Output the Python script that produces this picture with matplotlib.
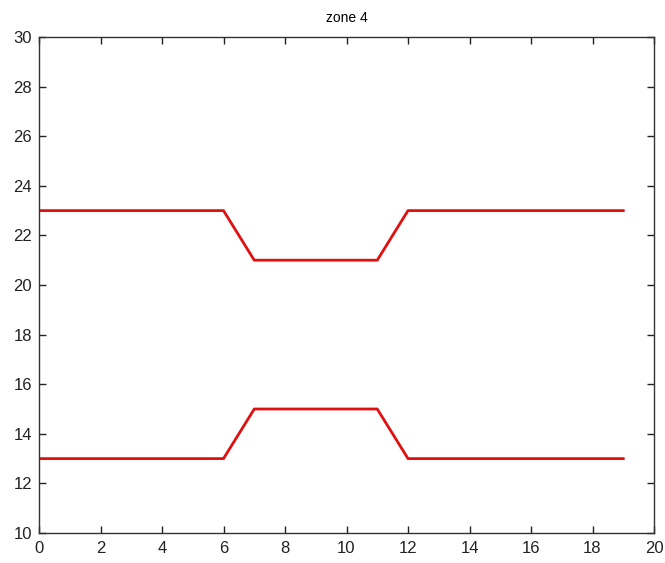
import matplotlib
matplotlib.use("Agg")
import matplotlib.pyplot as plt

x = [0, 1, 2, 3, 4, 5, 6, 7, 8, 9, 10, 11, 12, 13, 14, 15, 16, 17, 18, 19]
upper = [23, 23, 23, 23, 23, 23, 23, 21, 21, 21, 21, 21, 23, 23, 23, 23, 23, 23, 23, 23]
lower = [13, 13, 13, 13, 13, 13, 13, 15, 15, 15, 15, 15, 13, 13, 13, 13, 13, 13, 13, 13]
title = "zone 4"

plt.rcParams['font.family'] = ['Liberation Sans', 'DejaVu Sans']
fig = plt.figure(figsize=(6.65, 5.63), dpi=100)
ax = fig.add_axes([39/665, 1-533/563, (654-39)/665, (533-37)/563])
ax.plot(x, upper, color="#e01010", lw=2.0)
ax.plot(x, lower, color="#e01010", lw=2.0)
ax.set_xlim(0, 20)
ax.set_ylim(10, 30)
ax.set_xticks(range(0, 21, 2))
ax.set_yticks(range(10, 31, 2))
ax.tick_params(direction="in", top=True, right=True, length=5, width=1,
               labelsize=12, colors="#222222")
ax.tick_params(axis="x", pad=6)
ax.tick_params(axis="y", pad=5)
for s in ax.spines.values():
    s.set_linewidth(1)
    s.set_color("#333333")
ax.set_title(title, fontsize=10, pad=11)
fig.savefig("out.png", dpi=100)
